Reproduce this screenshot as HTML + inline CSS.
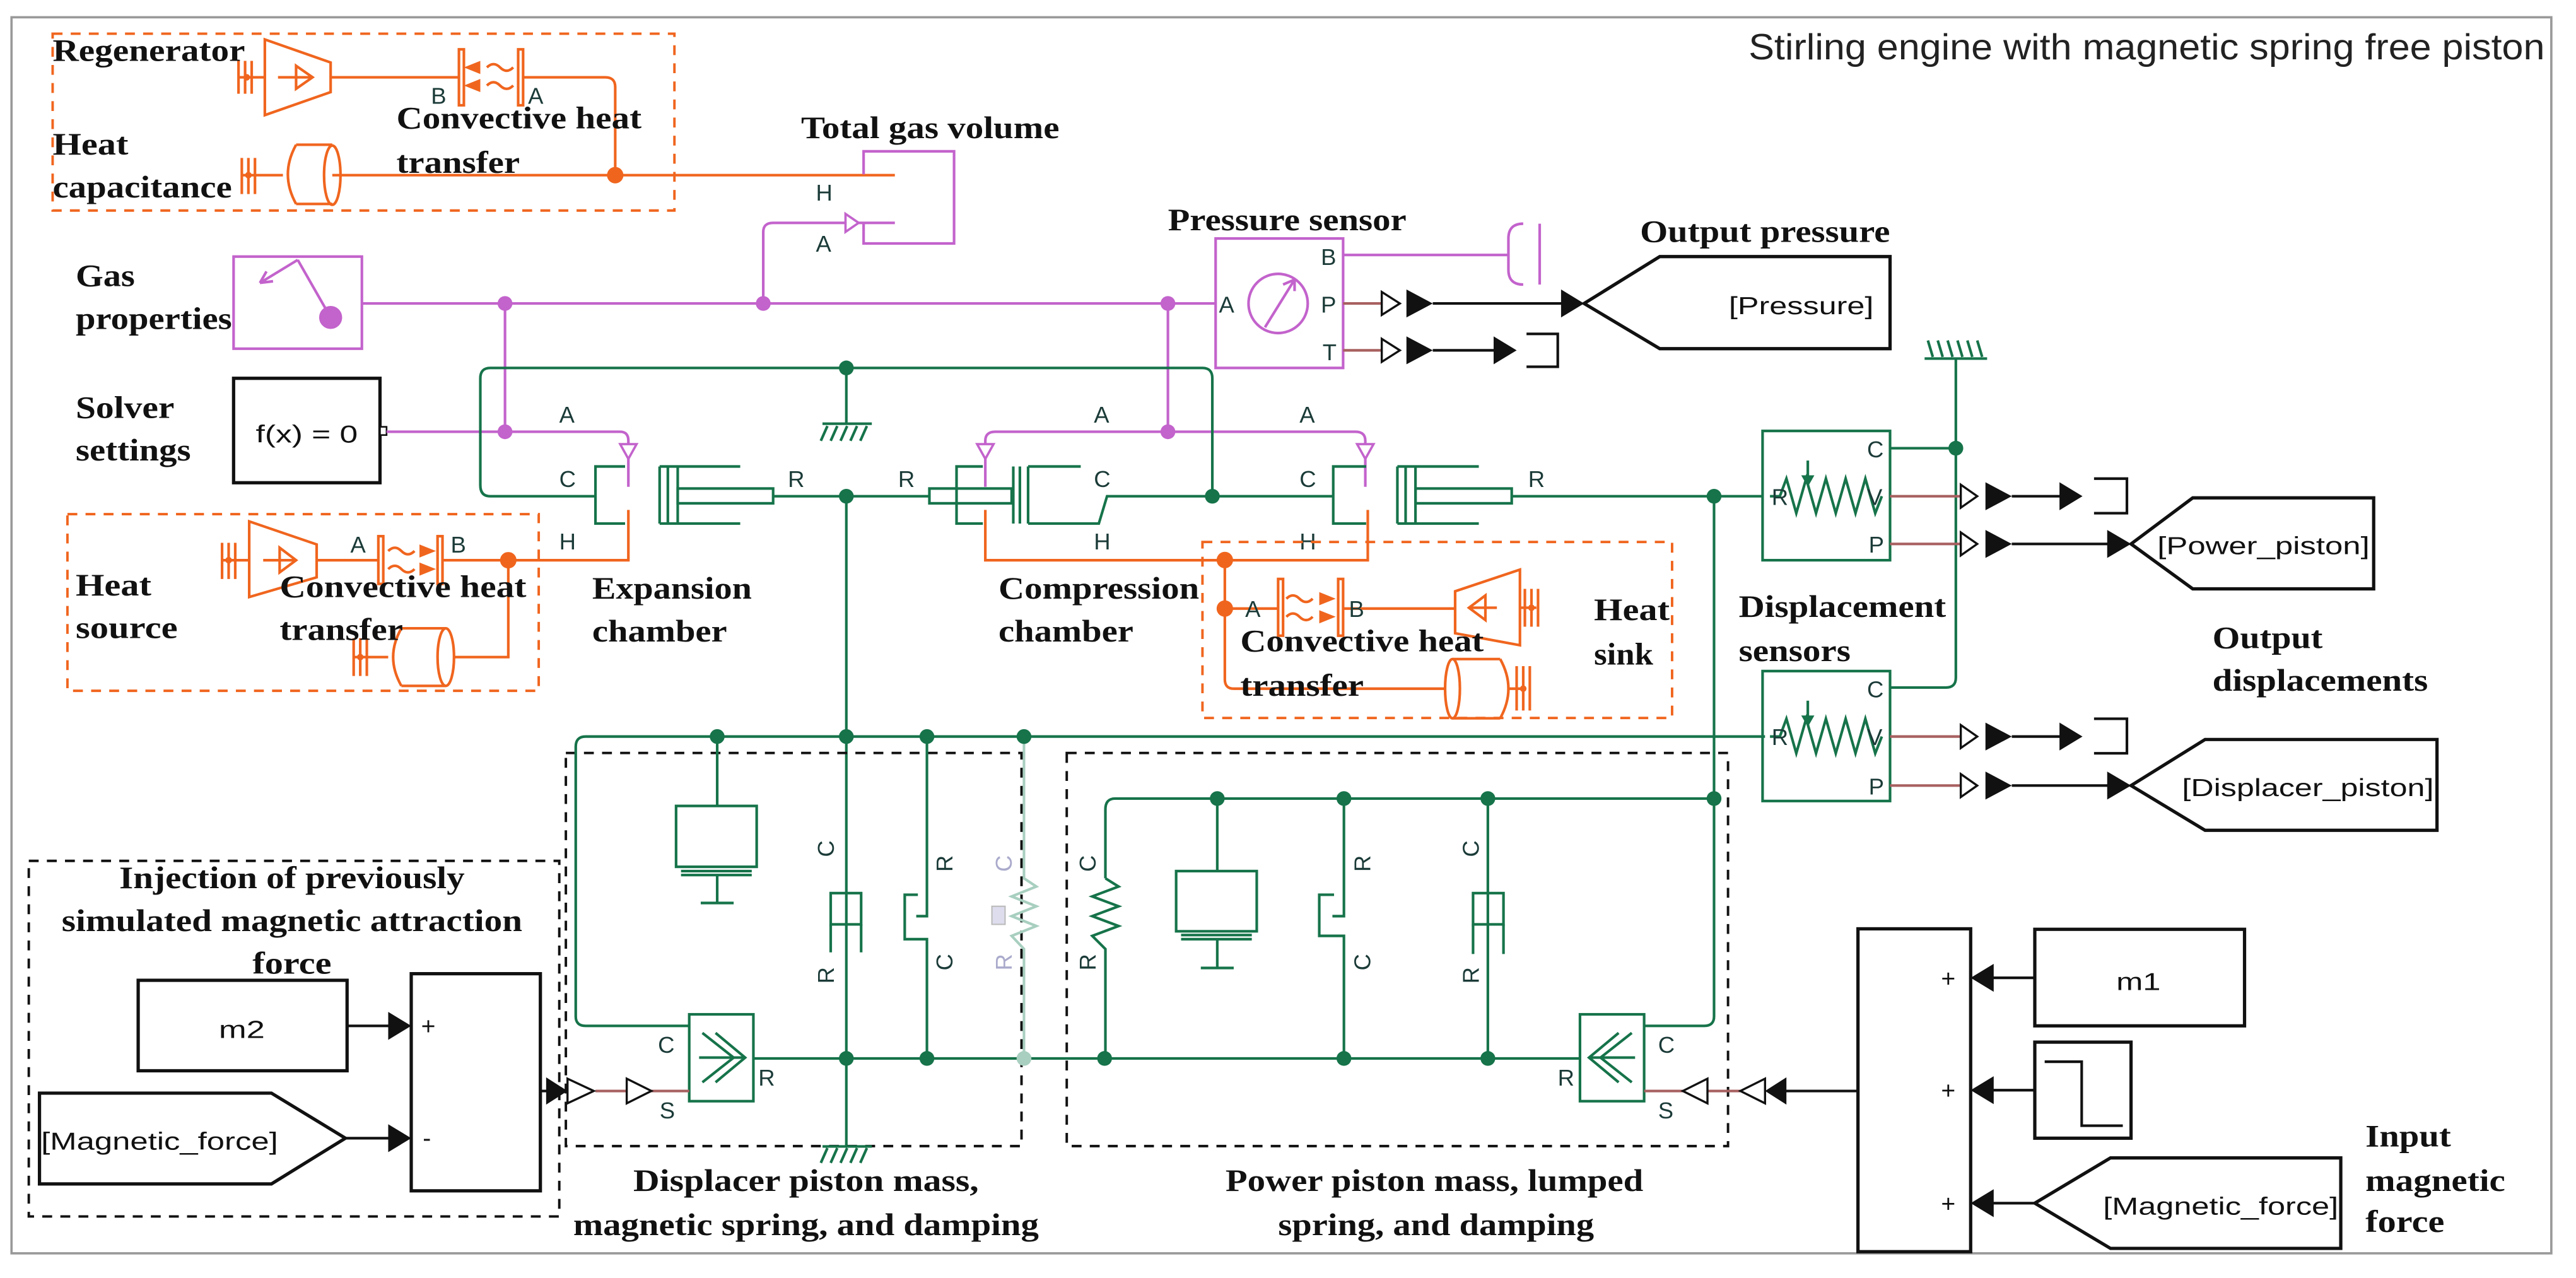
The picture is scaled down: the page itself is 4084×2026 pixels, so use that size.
<!DOCTYPE html>
<html><head><meta charset="utf-8">
<style>
html,body{margin:0;padding:0;background:#fff;}
svg{display:block;}
.sl{font-family:"Liberation Serif",serif;font-weight:bold;font-size:19px;fill:#111;}
.pt{font-family:"Liberation Sans",sans-serif;font-size:14px;fill:#1b3b38;}
.bt{font-family:"Liberation Sans",sans-serif;font-size:15px;fill:#111;}
.g{stroke:#16734a;stroke-width:1.6;fill:none;}
.o{stroke:#f0651e;stroke-width:1.6;fill:none;}
.m{stroke:#c363cc;stroke-width:1.6;fill:none;}
.k{stroke:#111;stroke-width:1.6;fill:none;}
.r{stroke:#a86060;stroke-width:1.6;fill:none;}
.kb{stroke:#111;stroke-width:2;fill:#fff;}
</style></head><body>
<svg width="4084" height="2026" viewBox="0 0 1566 777" preserveAspectRatio="none" xmlns="http://www.w3.org/2000/svg">
<rect x="0" y="0" width="1566" height="777" fill="#fff"/>
<rect x="7" y="10.5" width="1544" height="751.5" fill="none" stroke="#999" stroke-width="1.4"/>
<text x="1547" y="36" text-anchor="end" font-family="Liberation Sans, sans-serif" font-size="22" fill="#222" textLength="484" lengthAdjust="spacingAndGlyphs">Stirling engine with magnetic spring free piston</text>

<!-- ===== Regenerator box ===== -->
<rect x="32" y="20.5" width="378" height="107.5" fill="none" stroke="#f0651e" stroke-width="1.5" stroke-dasharray="6,5"/>
<g class="o">
  <path d="M145 37V57M149 37V57M153 37V57M145 47H161"/>
  <polygon points="161,24 201,38 201,56 161,70"/>
  <path d="M169 47H190M180 40L190 47L180 54Z"/>
  <path d="M201 47H279"/>
  <rect x="279" y="30" width="3" height="34"/>
  <rect x="315" y="30" width="3" height="34"/>
  <path d="M296 41q4 -4 8 0t8 0M296 52q4 -4 8 0t8 0"/>
  <path d="M318 47H368Q374 47 374 53V106"/>
  <path d="M147 96V118M151 96V118M155 96V118M147 106.5H172"/>
  <path d="M180 88H202M180 124H202M180 88Q170 106 180 124"/>
  <ellipse cx="202" cy="106.5" rx="5" ry="18"/>
  <path d="M202 106.5H544"/>
</g>
<circle cx="150" cy="47" r="2" fill="#f0651e"/>
<circle cx="151" cy="106.5" r="2" fill="#f0651e"/>
<polygon points="282,41 292,37 292,45" fill="#f0651e"/>
<polygon points="282,52 292,48 292,56" fill="#f0651e"/>
<circle cx="374" cy="106.5" r="5" fill="#f0651e"/>
<text class="pt" x="262" y="63">B</text><text class="pt" x="321" y="63">A</text>
<text class="sl" x="32" y="37" textLength="117" lengthAdjust="spacingAndGlyphs">Regenerator</text>
<text class="sl" x="241" y="78" textLength="149" lengthAdjust="spacingAndGlyphs">Convective heat</text>
<text class="sl" x="241" y="105" textLength="75" lengthAdjust="spacingAndGlyphs">transfer</text>
<text class="sl" x="32" y="94" textLength="46" lengthAdjust="spacingAndGlyphs">Heat</text>
<text class="sl" x="32" y="120" textLength="109" lengthAdjust="spacingAndGlyphs">capacitance</text>

<!-- Total gas volume -->
<text class="sl" x="487" y="84" textLength="157" lengthAdjust="spacingAndGlyphs">Total gas volume</text>
<path class="m" d="M525 106V92H580V148H525V135"/>
<text class="pt" x="496" y="122">H</text><text class="pt" x="496" y="153">A</text>
<path class="m" d="M464 184.5V141Q464 135.5 470 135.5H544"/>
<polygon points="514,130 522,135.5 514,141" fill="#fff" stroke="#c363cc" stroke-width="1.4"/>

<!-- Gas properties -->
<rect x="142" y="156" width="78" height="56" fill="none" stroke="#c363cc" stroke-width="1.6"/>
<path class="m" d="M201 193L181 158M181 158L158 172M158 172L166 171M158 172L162 165"/>
<circle cx="201" cy="193" r="7" fill="#c363cc"/>
<text class="sl" x="46" y="174" textLength="36" lengthAdjust="spacingAndGlyphs">Gas</text>
<text class="sl" x="46" y="200" textLength="95" lengthAdjust="spacingAndGlyphs">properties</text>

<!-- Solver -->
<rect x="142" y="230" width="89" height="63.5" class="kb"/>
<text class="bt" x="186.5" y="269" text-anchor="middle" font-size="21" textLength="62" lengthAdjust="spacingAndGlyphs">f(x) = 0</text>
<rect x="231" y="259.5" width="4" height="5" fill="#fff" stroke="#111" stroke-width="1"/>
<text class="sl" x="46" y="254" textLength="60" lengthAdjust="spacingAndGlyphs">Solver</text>
<text class="sl" x="46" y="280" textLength="70" lengthAdjust="spacingAndGlyphs">settings</text>

<!-- magenta network -->
<g class="m">
  <path d="M220 184.5H739"/>
  <path d="M307 184.5V262.5"/>
  <path d="M235 262.5H377Q382 262.5 382 268V296"/>
  <path d="M710 184.5V262.5"/>
  <path d="M830 296V268Q830 262.5 824 262.5H605Q599 262.5 599 268V296"/>
</g>
<g fill="#fff" stroke="#c363cc" stroke-width="1.4">
  <polygon points="377,270 387,270 382,279"/>
  <polygon points="594,270 604,270 599,279"/>
  <polygon points="825,270 835,270 830,279"/>
</g>
<g fill="#c363cc"><circle cx="307" cy="184.5" r="4.5"/><circle cx="464" cy="184.5" r="4.5"/><circle cx="710" cy="184.5" r="4.5"/><circle cx="307" cy="262.5" r="4.5"/><circle cx="710" cy="262.5" r="4.5"/></g>

<!-- Pressure sensor -->
<text class="sl" x="710" y="140" textLength="145" lengthAdjust="spacingAndGlyphs">Pressure sensor</text>
<rect x="739" y="145" width="77.5" height="78.7" fill="none" stroke="#c363cc" stroke-width="1.6"/>
<circle cx="777" cy="184.5" r="18" class="m"/>
<path class="m" d="M769 199L787 170M787 170L780 173M787 170L787 177"/>
<text class="pt" x="741" y="190">A</text>
<text class="pt" x="803" y="161">B</text><text class="pt" x="803" y="190">P</text><text class="pt" x="804" y="219">T</text>
<path class="m" d="M816.5 155H917M926 136Q917 136 917 145V164Q917 173 926 173M936 136V173"/>
<path class="r" d="M816.5 184.5H840M816.5 213H840"/>
<g fill="#fff" stroke="#111" stroke-width="1.3"><polygon points="840,177.5 851,184.5 840,191.5"/><polygon points="840,206 851,213 840,220"/></g>
<g fill="#111"><polygon points="855,176 871,184.5 855,193"/><polygon points="855,204.5 871,213 855,221.5"/><polygon points="949,176 963,184.5 949,193"/><polygon points="908,204.5 922,213 908,221.5"/></g>
<path class="k" d="M871 184.5H950M871 213H909M928 203H947V223H928"/>
<polygon points="963,184.5 1009,156 1149,156 1149,212 1009,212" fill="#fff" stroke="#111" stroke-width="2"/>
<text class="bt" x="1095" y="191" text-anchor="middle" font-size="20" textLength="88" lengthAdjust="spacingAndGlyphs">[Pressure]</text>
<text class="sl" x="997" y="147" textLength="152" lengthAdjust="spacingAndGlyphs">Output pressure</text>

<!-- ===== green top ===== -->
<g class="g">
  <path d="M362 301.7H298Q292 301.7 292 295V230Q292 223.7 298 223.7H731Q737 223.7 737 230V301.7"/>
  <path d="M514.5 223.7V257.6M500 257.6H530"/>
  <path d="M503 259L499 268M509 259L505 268M515 259L511 268M521 259L517 268M527 259L523 268"/>
  <path d="M380 283.6H362V318.3H380"/>
  <path d="M401 283.6V318.3M406 283.6V318.3M412 283.6V318.3M401 283.6H450M401 318.3H450"/>
  <rect x="412" y="297" width="58" height="9"/>
  <path d="M470 301.7H565"/>
  <path d="M514.5 301.7V697"/>
  <rect x="565" y="297" width="50" height="9"/>
  <path d="M597.5 283.6H581.5V318.3H597.5"/>
  <path d="M616 283.6V318.3M620 283.6V318.3M625 283.6V318.3M625 283.6H657M625 318.3H668L673 301.7H737"/>
  <path d="M737 301.7H810.5M830.5 283.6H810.5V318.3H830.5"/>
  <path d="M849.5 283.6V318.3M854.5 283.6V318.3M860.5 283.6V318.3M849.5 283.6H899M849.5 318.3H899"/>
  <rect x="860.5" y="297" width="58.5" height="9"/>
  <path d="M919 301.7H1071.5"/>
  <path d="M1042 301.7V618Q1042 623.7 1036 623.7H999.5"/>
</g>
<g fill="#16734a"><circle cx="514.5" cy="223.7" r="4.5"/><circle cx="514.5" cy="301.7" r="4.5"/><circle cx="737" cy="301.7" r="4.5"/><circle cx="1042" cy="301.7" r="4.5"/></g>
<text class="pt" x="340" y="296">C</text><text class="pt" x="479" y="296">R</text><text class="pt" x="340" y="257">A</text><text class="pt" x="340" y="334">H</text>
<text class="pt" x="546" y="296">R</text><text class="pt" x="665" y="296">C</text><text class="pt" x="665" y="257">A</text><text class="pt" x="665" y="334">H</text>
<text class="pt" x="790" y="296">C</text><text class="pt" x="929" y="296">R</text><text class="pt" x="790" y="257">A</text><text class="pt" x="790" y="334">H</text>

<g class="o">
  <path d="M382 310V340.6H309"/>
  <path d="M599 310V340.6H831.5V310"/>
</g>

<!-- Heat source box -->
<rect x="41" y="312.6" width="286.5" height="107.4" fill="none" stroke="#f0651e" stroke-width="1.5" stroke-dasharray="6,5"/>
<g class="o">
  <path d="M135 330V352M139 330V352M143 330V352M135 340.6H151.5"/>
  <polygon points="151.5,317 192.5,331 192.5,351 151.5,363"/>
  <path d="M160 340.6H180M170 333L180 340.6L170 348Z"/>
  <path d="M192.5 340.6H230"/>
  <rect x="230" y="326" width="3" height="29"/>
  <rect x="266" y="326" width="3" height="29"/>
  <path d="M236 335q4 -4 8 0t8 0M236 346q4 -4 8 0t8 0"/>
  <path d="M269 340.6H309V399.5H276"/>
  <path d="M215 388V411M219 388V411M223 388V411M215 399.5H236"/>
  <ellipse cx="271" cy="399.5" rx="5" ry="17.5"/>
  <path d="M244 382H271M244 417H271M244 382Q234 399.5 244 417"/>
</g>
<polygon points="265,335 255,331 255,339" fill="#f0651e"/>
<polygon points="265,346 255,342 255,350" fill="#f0651e"/>
<circle cx="139" cy="340.6" r="2" fill="#f0651e"/><circle cx="219" cy="399.5" r="2" fill="#f0651e"/>
<circle cx="309" cy="340.6" r="5" fill="#f0651e"/>
<text class="pt" x="213" y="336">A</text><text class="pt" x="274" y="336">B</text>
<text class="sl" x="46" y="362" textLength="46" lengthAdjust="spacingAndGlyphs">Heat</text>
<text class="sl" x="46" y="388" textLength="62" lengthAdjust="spacingAndGlyphs">source</text>
<text class="sl" x="170" y="363" textLength="150" lengthAdjust="spacingAndGlyphs">Convective heat</text>
<text class="sl" x="170" y="389" textLength="75" lengthAdjust="spacingAndGlyphs">transfer</text>
<text class="sl" x="360" y="364" textLength="97" lengthAdjust="spacingAndGlyphs">Expansion</text>
<text class="sl" x="360" y="390" textLength="82" lengthAdjust="spacingAndGlyphs">chamber</text>
<text class="sl" x="607" y="364" textLength="122" lengthAdjust="spacingAndGlyphs">Compression</text>
<text class="sl" x="607" y="390" textLength="82" lengthAdjust="spacingAndGlyphs">chamber</text>

<!-- Heat sink box -->
<rect x="731" y="329.5" width="285.5" height="107" fill="none" stroke="#f0651e" stroke-width="1.5" stroke-dasharray="6,5"/>
<g class="o">
  <path d="M744.6 340.5V413Q744.6 418.7 750 418.7H879"/>
  <path d="M744.6 370H777"/>
  <rect x="777" y="352" width="3" height="34.5"/>
  <rect x="813.5" y="352" width="3" height="34.5"/>
  <path d="M782 364q4 -4 8 0t8 0M782 375q4 -4 8 0t8 0"/>
  <path d="M816.5 370H884.6"/>
  <polygon points="884.6,359.5 924,346.3 924,392.3 884.6,385"/>
  <path d="M893 369.5H910M903 362L893 369.5L903 377Z"/>
  <path d="M924 369.5H934M927 358V381M931 358V381M935 358V381"/>
  <ellipse cx="883" cy="418.7" rx="4.5" ry="18"/>
  <path d="M883 400.7H912M883 436.7H912M912 400.7Q922 418.7 912 436.7"/>
  <path d="M917 418.7H926M922 405V432M926 405V432M930 405V432"/>
</g>
<polygon points="812,364 802,360 802,368" fill="#f0651e"/>
<polygon points="812,375 802,371 802,379" fill="#f0651e"/>
<circle cx="931" cy="369.5" r="2" fill="#f0651e"/><circle cx="926" cy="418.7" r="2" fill="#f0651e"/>
<circle cx="744.6" cy="340.5" r="5" fill="#f0651e"/><circle cx="744.6" cy="370" r="5" fill="#f0651e"/>
<text class="pt" x="757" y="375">A</text><text class="pt" x="820" y="375">B</text>
<text class="sl" x="754" y="396" textLength="148" lengthAdjust="spacingAndGlyphs">Convective heat</text>
<text class="sl" x="754" y="423" textLength="75" lengthAdjust="spacingAndGlyphs">transfer</text>
<text class="sl" x="969" y="377" textLength="46" lengthAdjust="spacingAndGlyphs">Heat</text>
<text class="sl" x="969" y="404" textLength="36" lengthAdjust="spacingAndGlyphs">sink</text>

<!-- Displacement sensors -->
<g class="g">
  <rect x="1071.5" y="262" width="77.5" height="78.6"/>
  <path d="M1076 301.7L1082 301.7L1086 291L1092 312L1098 291L1104 312L1110 291L1116 312L1122 291L1128 312L1134 291L1140 312L1144 301.7"/>
  <path d="M1099 280V294"/>
  <path d="M1149 272.5H1189M1189 218V412Q1189 418 1183 418H1149"/>
  <path d="M1170 218H1208"/>
  <path d="M1172 207L1175 217M1178 207L1181 217M1184 207L1187 217M1190 207L1193 217M1196 207L1199 217M1202 207L1205 217"/>
  <rect x="1071.5" y="408" width="77.5" height="79"/>
  <path d="M1076 447.8L1082 447.8L1086 437L1092 458L1098 437L1104 458L1110 437L1116 458L1122 437L1128 458L1134 437L1140 458L1144 447.8"/>
  <path d="M1099 426V440"/>
</g>
<polygon points="1095,289 1103,289 1099,296" fill="#16734a"/>
<polygon points="1095,435 1103,435 1099,442" fill="#16734a"/>
<circle cx="1189" cy="272.5" r="4.5" fill="#16734a"/>
<g class="pt"><text x="1077" y="307">R</text><text x="1135" y="278">C</text><text x="1135" y="307">V</text><text x="1136" y="336">P</text>
<text x="1077" y="453">R</text><text x="1135" y="424">C</text><text x="1135" y="453">V</text><text x="1136" y="483">P</text></g>
<path class="r" d="M1149 301.7H1192M1149 330.7H1192M1149 447.8H1192M1149 477.6H1192"/>
<g fill="#fff" stroke="#111" stroke-width="1.3">
<polygon points="1192,294.7 1202,301.7 1192,308.7"/><polygon points="1192,323.7 1202,330.7 1192,337.7"/>
<polygon points="1192,440.8 1202,447.8 1192,454.8"/><polygon points="1192,470.6 1202,477.6 1192,484.6"/></g>
<g fill="#111">
<polygon points="1207,293.2 1223,301.7 1207,310.2"/><polygon points="1207,322.2 1223,330.7 1207,339.2"/>
<polygon points="1207,439.3 1223,447.8 1207,456.3"/><polygon points="1207,469.1 1223,477.6 1207,486.1"/>
<polygon points="1252,293.2 1266,301.7 1252,310.2"/><polygon points="1252,439.3 1266,447.8 1252,456.3"/>
<polygon points="1281,322.2 1295.5,330.7 1281,339.2"/><polygon points="1281,469.1 1295.5,477.6 1281,486.1"/></g>
<path class="k" d="M1223 301.7H1253M1223 330.7H1282M1223 447.8H1253M1223 477.6H1282M1273 291H1293V312H1273M1273 437H1293V458H1273"/>
<polygon points="1295.5,330.7 1333,302.7 1443,302.7 1443,358 1333,358" fill="#fff" stroke="#111" stroke-width="2"/>
<text class="bt" x="1376" y="337" text-anchor="middle" font-size="20" textLength="129" lengthAdjust="spacingAndGlyphs">[Power_piston]</text>
<polygon points="1295.5,477.6 1340.5,449.6 1481.5,449.6 1481.5,504.8 1340.5,504.8" fill="#fff" stroke="#111" stroke-width="2"/>
<text class="bt" x="1403" y="484" text-anchor="middle" font-size="20" textLength="153" lengthAdjust="spacingAndGlyphs">[Displacer_piston]</text>
<text class="sl" x="1057" y="375" textLength="126" lengthAdjust="spacingAndGlyphs">Displacement</text>
<text class="sl" x="1057" y="402" textLength="68" lengthAdjust="spacingAndGlyphs">sensors</text>
<text class="sl" x="1345" y="394" textLength="67" lengthAdjust="spacingAndGlyphs">Output</text>
<text class="sl" x="1345" y="420" textLength="131" lengthAdjust="spacingAndGlyphs">displacements</text>

<!-- ===== lower green ===== -->
<rect x="344" y="457.8" width="277" height="239" fill="none" stroke="#111" stroke-width="1.5" stroke-dasharray="6,5"/>
<rect x="648.5" y="457.8" width="402" height="239" fill="none" stroke="#111" stroke-width="1.5" stroke-dasharray="6,5"/>
<g class="g">
  <path d="M1073 447.8H356Q350 447.8 350 454V618Q350 623.7 356 623.7H419"/>
  <path d="M436 447.8V490"/>
  <rect x="411" y="490" width="49" height="37"/>
  <path d="M414 529.6H457M414 532H457M436 532V549M426 549H446"/>
  <rect x="505" y="543" width="18.5" height="19"/>
  <path d="M505 562V579M523.5 562V579"/>
  <path d="M563.5 447.8V557H557M558 544H550V571H563.5V643.5"/>
  <path d="M500 697H530M503 698L499 707M509 698L505 707M515 698L511 707M521 698L517 707M527 698L523 707"/>
  <path d="M458 643.5H960.5"/>
  <rect x="419" y="616.7" width="39" height="52.8"/>
  <path d="M427 628L446 643L427 658M435 628L453 643L435 658M425 643H453"/>
  <rect x="960.5" y="616.7" width="39" height="52.8"/>
  <path d="M992 628L973 643L992 658M984 628L966 643L984 658M966 643H994"/>
  <path d="M1042 485.5H678Q672 485.5 672 492V534"/>
  <path d="M672 534L680 539L664 545L680 551L664 557L680 563L664 569L672 577V643.5"/>
  <path d="M740 485.5V529.6"/>
  <rect x="715" y="529.6" width="49" height="36.6"/>
  <path d="M718 568.5H761M718 571H761M740 571V588.5M730 588.5H750"/>
  <path d="M817 485.5V557H810M811 544H802V569H817V643.5"/>
  <path d="M904.5 485.5V643.5"/>
  <rect x="895.5" y="543" width="18.5" height="19"/>
  <path d="M895.5 562V580M914 562V580"/>
</g>
<path d="M622.5 447.8V534L630 539L615 545L630 551L615 557L630 563L615 569L622.5 577V643.5" fill="none" stroke="#a8cfc0" stroke-width="1.6"/>
<rect x="603" y="551" width="8" height="11" fill="#dde" stroke="#bbb" stroke-width="0.8"/>
<g fill="#16734a">
<circle cx="436" cy="447.8" r="4.5"/><circle cx="514.5" cy="447.8" r="4.5"/><circle cx="563.5" cy="447.8" r="4.5"/><circle cx="622.5" cy="447.8" r="4.5"/>
<circle cx="514.5" cy="643.5" r="4.5"/><circle cx="563.5" cy="643.5" r="4.5"/><circle cx="671.5" cy="643.5" r="4.5"/>
<circle cx="740" cy="485.5" r="4.5"/><circle cx="817" cy="485.5" r="4.5"/><circle cx="904.5" cy="485.5" r="4.5"/><circle cx="1042" cy="485.5" r="4.5"/>
<circle cx="817" cy="643.5" r="4.5"/><circle cx="904.5" cy="643.5" r="4.5"/></g>
<circle cx="622.5" cy="643.5" r="4.5" fill="#a8cfc0"/>
<g class="pt">
<text transform="translate(507,516) rotate(-90)" text-anchor="middle">C</text>
<text transform="translate(507,593) rotate(-90)" text-anchor="middle">R</text>
<text transform="translate(579,525) rotate(-90)" text-anchor="middle">R</text>
<text transform="translate(579,585) rotate(-90)" text-anchor="middle">C</text>
<text transform="translate(615,525) rotate(-90)" text-anchor="middle" fill="#aac">C</text>
<text transform="translate(615,585) rotate(-90)" text-anchor="middle" fill="#aac">R</text>
<text transform="translate(666,525) rotate(-90)" text-anchor="middle">C</text>
<text transform="translate(666,585) rotate(-90)" text-anchor="middle">R</text>
<text transform="translate(833,525) rotate(-90)" text-anchor="middle">R</text>
<text transform="translate(833,585) rotate(-90)" text-anchor="middle">C</text>
<text transform="translate(899,516) rotate(-90)" text-anchor="middle">C</text>
<text transform="translate(899,593) rotate(-90)" text-anchor="middle">R</text>
<text x="400" y="640">C</text><text x="461" y="660">R</text><text x="401" y="680">S</text>
<text x="947" y="660">R</text><text x="1008" y="640">C</text><text x="1008" y="680">S</text></g>

<!-- left sum -->
<rect x="17.5" y="523.4" width="322.5" height="216.2" fill="none" stroke="#111" stroke-width="1.5" stroke-dasharray="6,5"/>
<text class="sl" x="177.5" y="540" text-anchor="middle" textLength="210" lengthAdjust="spacingAndGlyphs">Injection of previously</text>
<text class="sl" x="177.5" y="566" text-anchor="middle" textLength="280" lengthAdjust="spacingAndGlyphs">simulated magnetic attraction</text>
<text class="sl" x="177.5" y="592" text-anchor="middle" textLength="48" lengthAdjust="spacingAndGlyphs">force</text>
<rect x="84" y="596" width="127" height="55" class="kb"/>
<text class="bt" x="147" y="631" text-anchor="middle" font-size="22" textLength="28" lengthAdjust="spacingAndGlyphs">m2</text>
<polygon points="24,664.6 165,664.6 210,692 165,719.8 24,719.8" fill="#fff" stroke="#111" stroke-width="2"/>
<text class="bt" x="97" y="699" text-anchor="middle" font-size="20" textLength="144" lengthAdjust="spacingAndGlyphs">[Magnetic_force]</text>
<rect x="250" y="592" width="78.5" height="132" class="kb"/>
<path class="k" d="M211 623.7H238M210 692H238M328.5 663.3H334"/>
<g fill="#111"><polygon points="236,615.2 250,623.7 236,632.2"/><polygon points="236,683.5 250,692 236,700.5"/><polygon points="332,655 345,663.3 332,671.6"/></g>
<text class="bt" x="256" y="629">+</text><text class="bt" x="257" y="697">-</text>
<path class="r" d="M362 663.3H381M396 663.3H419"/>
<g fill="#fff" stroke="#111" stroke-width="1.3"><polygon points="345,655.8 361,663.3 345,670.8"/><polygon points="381,655.8 396,663.3 381,670.8"/></g>
<text class="sl" x="490" y="724" text-anchor="middle" textLength="210" lengthAdjust="spacingAndGlyphs">Displacer piston mass,</text>
<text class="sl" x="490" y="751" text-anchor="middle" textLength="283" lengthAdjust="spacingAndGlyphs">magnetic spring, and damping</text>
<text class="sl" x="872" y="724" text-anchor="middle" textLength="254" lengthAdjust="spacingAndGlyphs">Power piston mass, lumped</text>
<text class="sl" x="873" y="751" text-anchor="middle" textLength="192" lengthAdjust="spacingAndGlyphs">spring, and damping</text>

<!-- right sum -->
<rect x="1129.5" y="564.7" width="68.5" height="196.3" class="kb"/>
<rect x="1237" y="565" width="127.5" height="58.7" class="kb"/>
<text class="bt" x="1300" y="602" text-anchor="middle" font-size="22" textLength="27" lengthAdjust="spacingAndGlyphs">m1</text>
<rect x="1237" y="633.6" width="58.5" height="58.4" class="kb"/>
<path class="k" d="M1243 645.5H1265.5V684.4H1290.5"/>
<polygon points="1237,731.5 1283,704 1423,704 1423,759 1283,759" fill="#fff" stroke="#111" stroke-width="2"/>
<text class="bt" x="1350" y="738.5" text-anchor="middle" font-size="20" textLength="143" lengthAdjust="spacingAndGlyphs">[Magnetic_force]</text>
<path class="k" d="M1237 594.5H1210M1237 662.8H1210M1237 731.5H1210M1129.5 663.3H1084"/>
<g fill="#111"><polygon points="1212,586 1198,594.5 1212,603"/><polygon points="1212,654.3 1198,662.8 1212,671.3"/><polygon points="1212,723 1198,731.5 1212,740"/><polygon points="1086,655 1073,663.3 1086,671.6"/></g>
<text class="bt" x="1180" y="600">+</text><text class="bt" x="1180" y="668">+</text><text class="bt" x="1180" y="737">+</text>
<path class="r" d="M999.5 663.3H1023M1038 663.3H1058"/>
<g fill="#fff" stroke="#111" stroke-width="1.3"><polygon points="1073,655.8 1058,663.3 1073,670.8"/><polygon points="1038,655.8 1023,663.3 1038,670.8"/></g>
<text class="sl" x="1438" y="697" textLength="52" lengthAdjust="spacingAndGlyphs">Input</text>
<text class="sl" x="1438" y="724" textLength="85" lengthAdjust="spacingAndGlyphs">magnetic</text>
<text class="sl" x="1438" y="749" textLength="48" lengthAdjust="spacingAndGlyphs">force</text>
</svg>
</body></html>
